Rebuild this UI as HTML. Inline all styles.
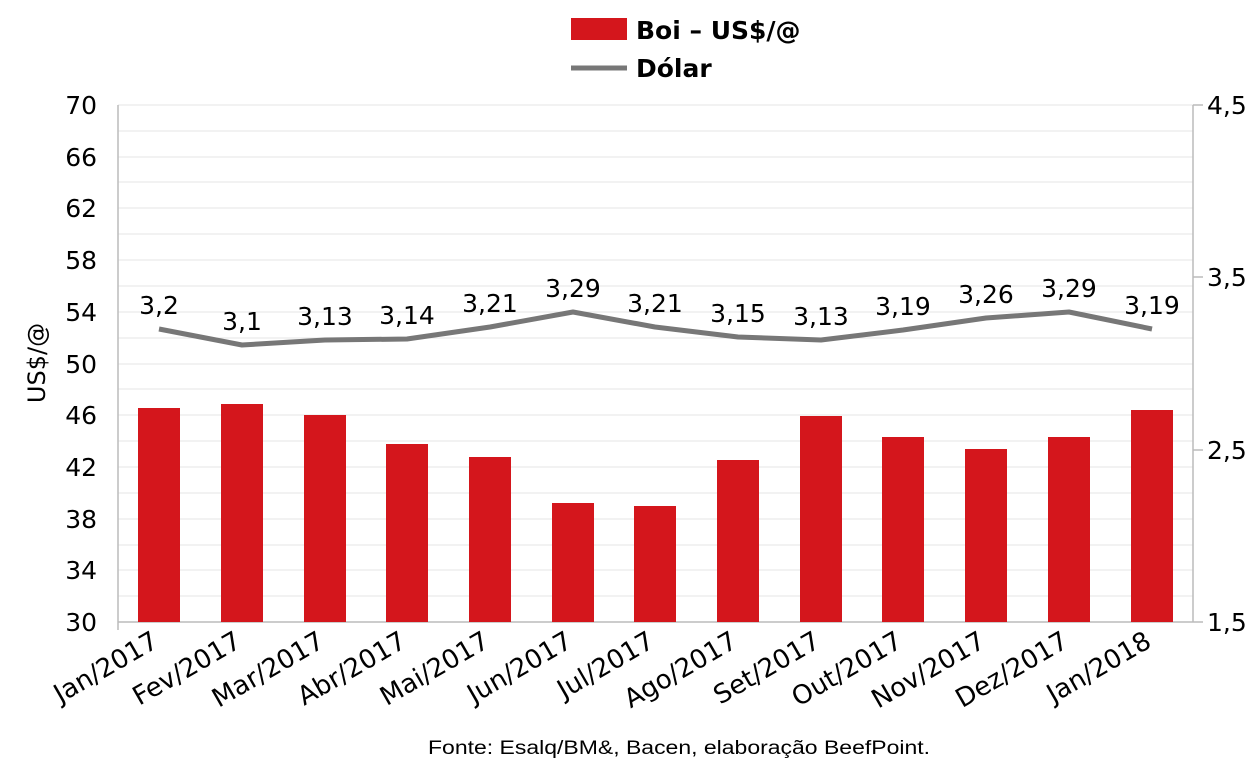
<!DOCTYPE html>
<html><head><meta charset="utf-8"><style>body{margin:0;background:#fff}svg{display:block}</style></head><body>
<svg width="1259" height="770" xmlns="http://www.w3.org/2000/svg" font-family="'DejaVu Sans','Liberation Sans',sans-serif">
<g stroke="#e6e6e6" stroke-width="1">
<line x1="118" x2="1193" y1="105" y2="105"/><line x1="118" x2="1193" y1="131" y2="131"/>
<line x1="118" x2="1193" y1="157" y2="157"/><line x1="118" x2="1193" y1="182" y2="182"/>
<line x1="118" x2="1193" y1="208" y2="208"/><line x1="118" x2="1193" y1="234" y2="234"/>
<line x1="118" x2="1193" y1="260" y2="260"/><line x1="118" x2="1193" y1="286" y2="286"/>
<line x1="118" x2="1193" y1="312" y2="312"/><line x1="118" x2="1193" y1="338" y2="338"/>
<line x1="118" x2="1193" y1="364" y2="364"/><line x1="118" x2="1193" y1="389" y2="389"/>
<line x1="118" x2="1193" y1="415" y2="415"/><line x1="118" x2="1193" y1="441" y2="441"/>
<line x1="118" x2="1193" y1="467" y2="467"/><line x1="118" x2="1193" y1="493" y2="493"/>
<line x1="118" x2="1193" y1="519" y2="519"/><line x1="118" x2="1193" y1="545" y2="545"/>
<line x1="118" x2="1193" y1="570" y2="570"/><line x1="118" x2="1193" y1="596" y2="596"/>
</g>
<g stroke="#bbb" stroke-width="1.5">
<line x1="118" x2="118" y1="105" y2="630"/><line x1="1193" x2="1193" y1="105" y2="622"/>
<line x1="118" x2="1193" y1="622" y2="622"/>
<line x1="1193" x2="1203" y1="105" y2="105"/><line x1="1193" x2="1203" y1="277" y2="277"/>
<line x1="1193" x2="1203" y1="450" y2="450"/><line x1="1193" x2="1203" y1="622" y2="622"/>
</g>
<g fill="#d4161c">
<rect x="138" y="408" width="42" height="214"/><rect x="221" y="404" width="42" height="218"/>
<rect x="304" y="415" width="42" height="207"/><rect x="386" y="444" width="42" height="178"/>
<rect x="469" y="457" width="42" height="165"/><rect x="552" y="503" width="42" height="119"/>
<rect x="634" y="506" width="42" height="116"/><rect x="717" y="460" width="42" height="162"/>
<rect x="800" y="416" width="42" height="206"/><rect x="882" y="437" width="42" height="185"/>
<rect x="965" y="449" width="42" height="173"/><rect x="1048" y="437" width="42" height="185"/>
<rect x="1131" y="410" width="42" height="212"/>
</g>
<polyline fill="none" stroke="#777" stroke-width="5" stroke-linejoin="round" points="159,329 242,345 325,340 407,339 490,327 573,312 655,327 738,337 821,340 903,330 986,318 1069,312 1152,329"/>
<g font-size="25" text-anchor="middle" fill="#000">
<text x="159" y="314">3,2</text><text x="242" y="330">3,1</text><text x="325" y="325">3,13</text>
<text x="407" y="324">3,14</text><text x="490" y="312">3,21</text><text x="573" y="297">3,29</text>
<text x="655" y="312">3,21</text><text x="738" y="322">3,15</text><text x="821" y="325">3,13</text>
<text x="903" y="315">3,19</text><text x="986" y="303">3,26</text><text x="1069" y="297">3,29</text>
<text x="1152" y="314">3,19</text>
</g>
<g font-size="25" text-anchor="end" fill="#000">
<text x="97" y="114">70</text><text x="97" y="166">66</text><text x="97" y="217">62</text>
<text x="97" y="269">58</text><text x="97" y="321">54</text><text x="97" y="373">50</text>
<text x="97" y="424">46</text><text x="97" y="476">42</text><text x="97" y="528">38</text>
<text x="97" y="579">34</text><text x="97" y="631">30</text>
</g>
<g font-size="25" fill="#000">
<text x="1207" y="114">4,5</text><text x="1207" y="286">3,5</text>
<text x="1207" y="459">2,5</text><text x="1207" y="631">1,5</text>
</g>
<text transform="translate(45,363) rotate(-90)" font-size="24" text-anchor="middle">US$/@</text>
<g font-size="26" text-anchor="end">
<text transform="translate(160,646) rotate(-30)">Jan/2017</text>
<text transform="translate(243,646) rotate(-30)">Fev/2017</text>
<text transform="translate(326,646) rotate(-30)">Mar/2017</text>
<text transform="translate(408,646) rotate(-30)">Abr/2017</text>
<text transform="translate(491,646) rotate(-30)">Mai/2017</text>
<text transform="translate(574,646) rotate(-30)">Jun/2017</text>
<text transform="translate(656,646) rotate(-30)">Jul/2017</text>
<text transform="translate(739,646) rotate(-30)">Ago/2017</text>
<text transform="translate(822,646) rotate(-30)">Set/2017</text>
<text transform="translate(904,646) rotate(-30)">Out/2017</text>
<text transform="translate(987,646) rotate(-30)">Nov/2017</text>
<text transform="translate(1070,646) rotate(-30)">Dez/2017</text>
<text transform="translate(1153,646) rotate(-30)">Jan/2018</text>
</g>
<rect x="571" y="18" width="56" height="22" fill="#d4161c"/>
<text x="636" y="39" font-size="25" font-weight="bold">Boi – US$/@</text>
<line x1="571" x2="627" y1="68" y2="68" stroke="#777" stroke-width="5"/>
<text x="636" y="77" font-size="25" font-weight="bold">Dólar</text>
<text x="428" y="754" font-size="19" textLength="502" lengthAdjust="spacingAndGlyphs" font-family="'Liberation Sans',sans-serif">Fonte: Esalq/BM&amp;, Bacen, elaboração BeefPoint.</text>
</svg>
</body></html>
